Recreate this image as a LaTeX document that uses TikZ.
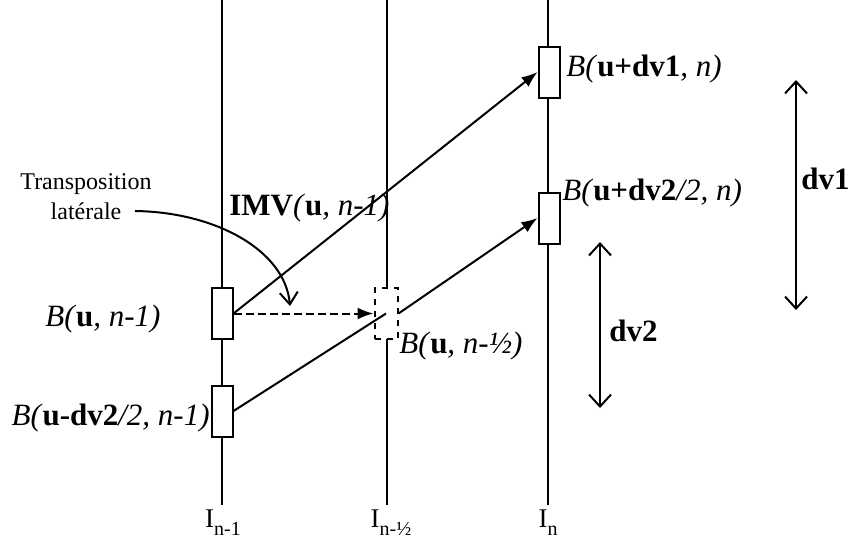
\documentclass[tikz,border=0pt]{standalone}
\usepackage{fontspec}
\setmainfont{Liberation Serif}
\usetikzlibrary{arrows.meta}

\newcommand{\lbl}{\fontsize{15.5}{18}\selectfont}
\newcommand{\subidx}[1]{\raisebox{-0.3em}{\fontsize{10}{11}\selectfont #1}}

\begin{document}
\begin{tikzpicture}[x=0.5pt,y=-0.5pt,
    blk/.style={draw, fill=white, line width=1pt, minimum width=10.5pt, minimum height=25.5pt, inner sep=0pt},
    link/.style={line width=1pt, -{Latex[length=8pt,width=6pt]}},
    span/.style={line width=1pt, {Straight Barb[length=6pt,width=11pt]}-{Straight Barb[length=6pt,width=11pt]}},
    txt/.style={font=\lbl, inner sep=0pt}]
        \useasboundingbox (0,0) rectangle (849,548);
        %time lines
        \coordinate (a0) at (222,0); \coordinate (a1) at (222,505);
        \coordinate (h0) at (387,0); \coordinate (h1) at (387,505);
        \coordinate (n0) at (548,0); \coordinate (n1) at (548,505);
        \draw[line width=1pt] (a0) -- (a1);
        \draw[line width=1pt] (h0) -- (h1);
        \draw[line width=1pt] (n0) -- (n1);
        \node[anchor=base, font=\fontsize{13.5}{15}\selectfont] (ia) at (223,527) {I\subidx{n-1}};
        \node[anchor=base, font=\fontsize{13.5}{15}\selectfont] (ih) at (391,527) {I\subidx{n-½}};
        \node[anchor=base, font=\fontsize{13.5}{15}\selectfont] (in) at (548,527) {I\subidx{n}};
        %blocks
        \node[blk] (bu) at (222,313.5) {};
        \node[blk] (bd) at (222,411) {};
        \node[blk, dashed, minimum width=11.5pt] (bh) at (386,313.5) {};
        \node[blk] (cu) at (549,72) {};
        \node[blk] (cd) at (549,218) {};
        %vectors
        \draw[link] (bu.east) -- (cu.west);
        \draw[link, dashed, dash pattern=on 4pt off 2pt] (bu.east) -- (bh.west);
        \draw[link] (bh.east) -- (cd.west);
        \draw[line width=1pt] (bd.east) -- (bh.center);
        %transposition
        \node[font=\fontsize{12}{15}\selectfont, align=center, inner sep=0pt] (tr) at (86,197) {Transposition\\latérale};
        \coordinate (ts) at (135,211);
        \coordinate (te) at (290,306);
        \draw[line width=1pt, -{Straight Barb[length=6pt,width=9pt]}] (ts) .. controls (215,212) and (285,250) .. (te);
        %labels
        \node[txt, anchor=west] (lcu) at (566,69) {\textit{B(}\textbf{u+dv1}\textit{, n)}};
        \node[txt, anchor=west] (lcd) at (562,193) {\textit{B(}\textbf{u+dv2}\textit{/2, n)}};
        \node[txt, anchor=west] (limv) at (229,208) {\textbf{IMV}\textit{(}\textbf{u}\textit{, n-1)}};
        \node[txt, anchor=east] (lbu) at (161,319) {\textit{B(}\textbf{u}\textit{, n-1)}};
        \node[txt, anchor=east] (lbd) at (210,418) {\textit{B(}\textbf{u-dv2}\textit{/2, n-1)}};
        \node[txt, anchor=west] (lbh) at (399,346) {\textit{B(}\textbf{u}\textit{, n-½)}};
        %displacements
        \coordinate (d1t) at (796,80); \coordinate (d1b) at (796,310);
        \coordinate (d2t) at (600,242); \coordinate (d2b) at (600,408);
        \draw[span] (d1t) -- (d1b);
        \draw[span] (d2t) -- (d2b);
        \node[txt, anchor=west] (ld1) at (801,179) {\textbf{dv1}};
        \node[txt, anchor=west] (ld2) at (609,331) {\textbf{dv2}};
    \end{tikzpicture}
\end{document}
